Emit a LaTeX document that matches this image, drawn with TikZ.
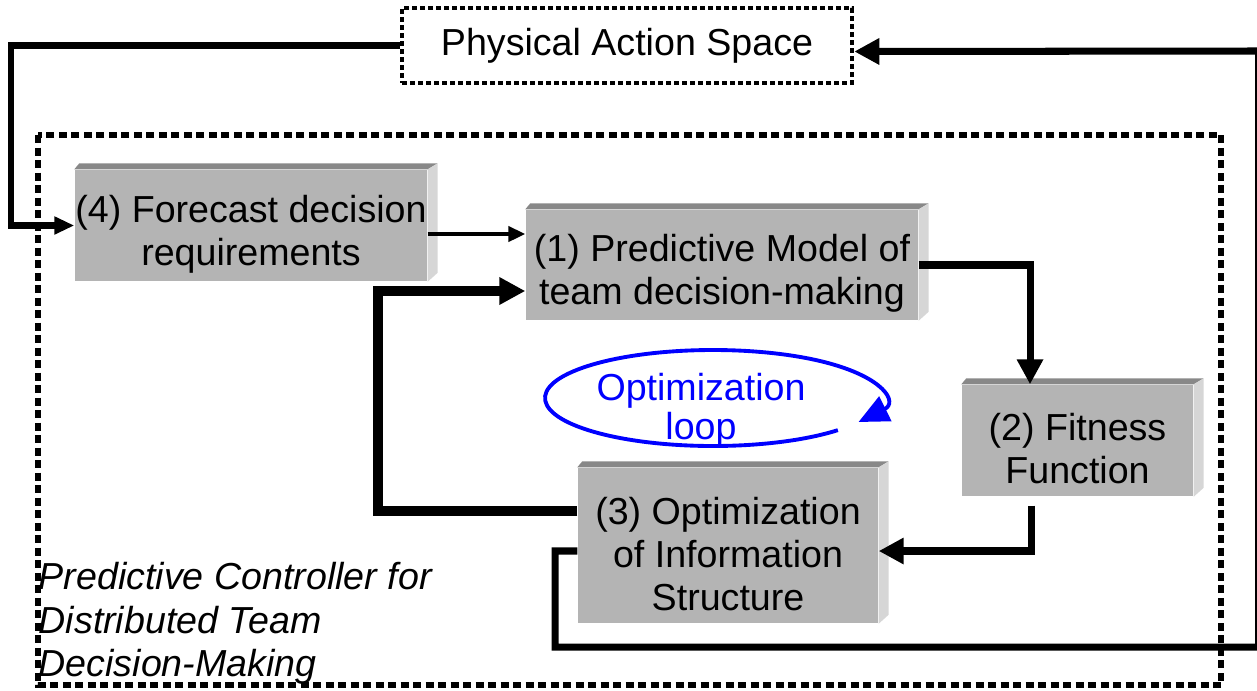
\documentclass[tikz,border=0pt]{standalone}
\usepackage{fontspec}
\setmainfont{Liberation Sans}
\usetikzlibrary{arrows.meta}

\definecolor{boxface}{RGB}{180,180,180}
\definecolor{boxtop}{RGB}{136,136,136}
\definecolor{boxside}{RGB}{214,214,214}

% raised look of the grey blocks
\newcommand{\bevel}[1]{%
  \fill[boxtop] (#1.north west) -- ++(0.05,0.06) -- ([shift={(0.10,0.06)}]#1.north east) -- (#1.north east) -- cycle;
  \fill[boxside] (#1.north east) -- ++(0.10,0.06) -- ([shift={(0.10,0.09)}]#1.south east) -- (#1.south east) -- cycle;}
% pushes the block text a little down
\newcommand{\lowtext}{\rule{0pt}{0.44cm}}

\begin{document}
\begin{tikzpicture}[
    font=\fontsize{10.7}{12.2}\selectfont,
    block/.style={fill=boxface, inner sep=0pt, align=center},
    physbox/.style={draw, line width=1.3pt, dash pattern=on 0.05cm off 0.03cm, inner sep=0pt},
    outerdots/.style={line width=1.6pt, dash pattern=on 0.08cm off 0.045cm},
    thinlink/.style={line width=1.4pt, -{Triangle[length=0.17cm,width=0.15cm]}},
    link/.style={line width=2pt, -{Triangle[length=0.25cm,width=0.25cm]}},
    fatlink/.style={line width=3.1pt, -{Triangle[length=0.26cm,width=0.26cm]}},
    looparrow/.style={blue, line width=1.1pt, -{Triangle[length=0.3cm,width=0.27cm]}}
  ]
    \useasboundingbox (0,0) rectangle (12.57,-6.90);

    % Frames
    % ---------------------
    \node[physbox, minimum width=4.50cm, minimum height=0.75cm] (phys) at (6.27,-0.455) {Physical Action Space};
    \draw[outerdots] (0.38,-1.35) rectangle (12.21,-6.85);
    \node[anchor=north west, align=left, inner sep=0pt, font=\fontsize{10.7}{12.3}\selectfont\itshape] (ctrl) at (0.38,-5.62)
      {Predictive Controller for\\Distributed Team\\Decision-Making};

    % Blocks
    % ---------------------
    \node[block, minimum width=3.52cm, minimum height=1.11cm] (fcast) at (2.51,-2.255) {\lowtext(4) Forecast decision\\requirements};
    \node[block, minimum width=3.92cm, minimum height=1.10cm] (pmodel) at (7.22,-2.65) {\lowtext(1) Predictive Model of\\team decision-making};
    \node[block, minimum width=2.31cm, minimum height=1.11cm] (fitness) at (10.775,-4.405) {\lowtext(2) Fitness\\Function};
    \node[block, minimum width=3.00cm, minimum height=1.55cm] (optim) at (7.28,-5.455) {\lowtext(3) Optimization\\of Information\\Structure};
    \bevel{fcast}
    \bevel{pmodel}
    \bevel{fitness}
    \bevel{optim}

    % Optimization loop
    % ---------------------
    \coordinate (optc) at (7.13,-3.98);
    \draw[looparrow] ([shift={(318:1.68cm and 0.48cm)}]optc) arc[start angle=318, end angle=-30, x radius=1.68cm, y radius=0.48cm];
    \node[blue, align=center, inner sep=0pt, font=\fontsize{10.7}{11.1}\selectfont] (optlbl) at (7.01,-4.10) {Optimization\\loop};

    % Connectors
    % ---------------------
    \coordinate (fbl) at (0.11,-2.255);
    \draw[line width=1.8pt, -{Triangle[length=0.2cm,width=0.17cm]}] (phys.west) -| (fbl) -- (fcast.west);

    \coordinate (p1in) at ([yshift=0.31cm]pmodel.west);
    \draw[thinlink] (fcast.east |- p1in) -- (p1in);

    \coordinate (f2in) at ([xshift=-0.475cm]fitness.north);
    \draw[link] (pmodel.east) -| (f2in);

    \coordinate (f2out) at ([xshift=-0.465cm,yshift=-0.09cm]fitness.south);
    \coordinate (o3in) at ([yshift=-0.055cm]optim.east);
    \draw[link] (f2out) |- (o3in);

    \coordinate (o3out) at ([yshift=0.345cm]optim.west);
    \coordinate (p1fb) at ([yshift=-0.26cm]pmodel.west);
    \coordinate (fbx) at (3.78,0);
    \draw[fatlink] (o3out) -| (fbx |- p1fb) -- (p1fb);

    \coordinate (o3low) at ([yshift=-0.055cm]optim.west);
    \coordinate (lowL) at (5.55,-6.47);
    \coordinate (upR) at (12.585,-0.51);
    \coordinate (pin) at ([yshift=-0.06cm]phys.east);
    \draw[link] (o3low) -| (lowL) -| (upR) -- (pin);
  \end{tikzpicture}
\end{document}
